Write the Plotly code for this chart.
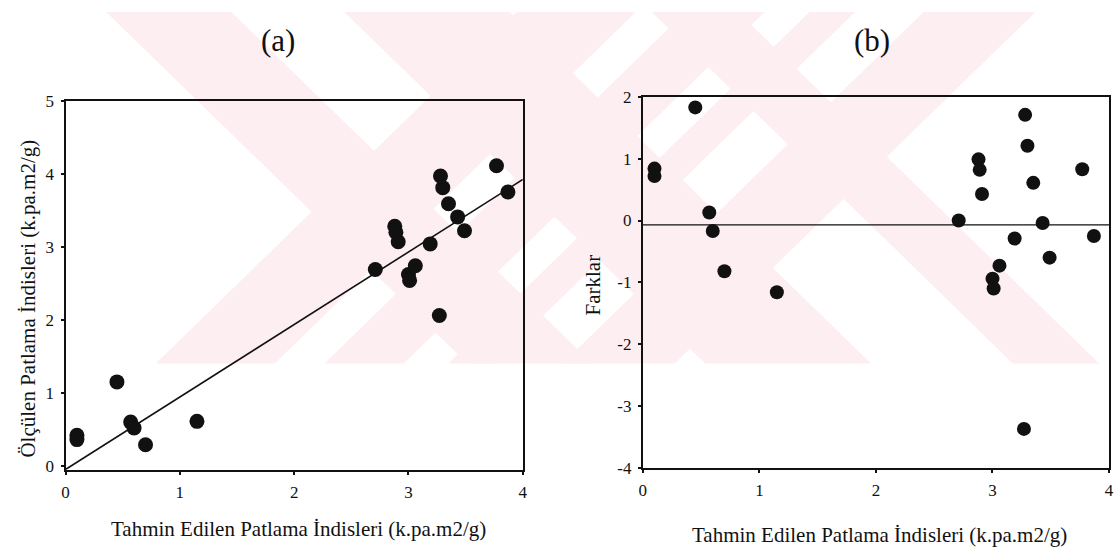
import numpy as np
import plotly.graph_objects as go

# Predicted blast indices (shared x values of both panels)
predicted = [0.10, 0.10, 0.45, 0.57, 0.60, 0.70, 1.15, 2.71, 2.88, 2.89, 2.91, 3.00,
             3.01, 3.06, 3.19, 3.27, 3.28, 3.30, 3.35, 3.43, 3.49, 3.77, 3.87]
# Measured blast indices, panel (a)
measured = [0.42, 0.36, 1.15, 0.60, 0.52, 0.29, 0.61, 2.69, 3.28, 3.20, 3.07, 2.62,
            2.54, 2.74, 3.04, 2.06, 3.97, 3.81, 3.59, 3.41, 3.22, 4.11, 3.75]
# Residuals, panel (b)
residuals = [0.84, 0.72, 1.83, 0.13, -0.17, -0.82, -1.16, 0.00, 0.99, 0.82, 0.43, -0.94,
             -1.10, -0.73, -0.29, -3.37, 1.71, 1.21, 0.61, -0.04, -0.60, 0.83, -0.25]

# Fitted line of panel (a) and reference line of panel (b)
fit_intercept = -0.05
fit_slope = 0.993
residual_ref = -0.07

x_ticks = [0, 1, 2, 3, 4]
ya_ticks = [0, 1, 2, 3, 4, 5]
yb_ticks = [2, 1, 0, -1, -2, -3, -4]
yb_labels = ["2", "1", "0", "-1", "-2", "-3", "-4"]

W, H = 1120, 558
FONT = "Liberation Serif, Times New Roman, serif"
INK = "#111111"

fig = go.Figure()

fit_x = np.array([0.0, 4.0])
fig.add_trace(go.Scatter(x=fit_x, y=fit_intercept + fit_slope * fit_x, mode="lines",
                         line=dict(color=INK, width=1.6), xaxis="x", yaxis="y",
                         showlegend=False, hoverinfo="skip"))
fig.add_trace(go.Scatter(x=predicted, y=measured, mode="markers",
                         marker=dict(size=15, color=INK), xaxis="x", yaxis="y",
                         showlegend=False))

fig.add_trace(go.Scatter(x=[0, 4], y=[residual_ref, residual_ref], mode="lines",
                         line=dict(color=INK, width=1.4), xaxis="x2", yaxis="y2",
                         showlegend=False, hoverinfo="skip"))
fig.add_trace(go.Scatter(x=predicted, y=residuals, mode="markers",
                         marker=dict(size=14, color=INK), xaxis="x2", yaxis="y2",
                         showlegend=False))


def px_x(v):
    return v / W


def px_y(v):
    return 1 - v / H


# Background emblem made of diagonal pink bands, clipped to a horizontal strip
Y_TOP, Y_BOT = 3, 367
back_bands = [(100, 226), (340, 507), (650, 737)]          # x - y in band
fwd_bands = [(520, 640), (690, 770), (815, 861), (930, 1043)]  # x + y in band
shapes = []
for a, b in back_bands:
    pts = [(a + Y_TOP, Y_TOP), (b + Y_TOP, Y_TOP), (b + Y_BOT, Y_BOT), (a + Y_BOT, Y_BOT)]
    path = "M " + " L ".join(f"{px_x(x):.4f},{px_y(y):.4f}" for x, y in pts) + " Z"
    shapes.append(dict(type="path", path=path, xref="paper", yref="paper",
                       fillcolor="#fdeef1", line=dict(width=0), layer="below"))
for a, b in fwd_bands:
    pts = [(a - Y_TOP, Y_TOP), (b - Y_TOP, Y_TOP), (b - Y_BOT, Y_BOT), (a - Y_BOT, Y_BOT)]
    path = "M " + " L ".join(f"{px_x(x):.4f},{px_y(y):.4f}" for x, y in pts) + " Z"
    shapes.append(dict(type="path", path=path, xref="paper", yref="paper",
                       fillcolor="#fdeef1", line=dict(width=0), layer="below"))

axis_common = dict(showgrid=False, zeroline=False, showline=True, linecolor=INK,
                   linewidth=2, mirror=True, ticks="outside", ticklen=3, tickwidth=2,
                   tickcolor=INK, tickfont=dict(family=FONT, size=17, color=INK))

fig.update_layout(
    width=W, height=H,
    margin=dict(l=0, r=0, t=0, b=0),
    paper_bgcolor="white", plot_bgcolor="rgba(0,0,0,0)",
    shapes=shapes,
    xaxis=dict(axis_common, domain=[62 / W, 523 / W], range=[0, 4], tickvals=x_ticks,
               anchor="y", ticklabelstandoff=3),
    yaxis=dict(axis_common, domain=[1 - 477 / H, 1 - 95 / H], range=[-0.053, 5],
               tickvals=ya_ticks, anchor="x", ticklabelstandoff=3),
    xaxis2=dict(axis_common, domain=[644 / W, 1114 / W], range=[0, 4], tickvals=x_ticks,
                anchor="y2", ticklabelstandoff=3),
    yaxis2=dict(axis_common, domain=[1 - 475 / H, 1 - 91 / H], range=[-4, 2],
                tickvals=yb_ticks, ticktext=yb_labels, anchor="x2", ticklabelstandoff=3),
)

title_font = dict(family=FONT, size=21, color=INK)
annotations = [
    dict(text="(a)", x=px_x(276), y=px_y(33), font=dict(family=FONT, size=31, color=INK)),
    dict(text="(b)", x=px_x(875), y=px_y(33), font=dict(family=FONT, size=31, color=INK)),
    dict(text="Tahmin Edilen Patlama İndisleri (k.pa.m2/g)", x=px_x(297), y=px_y(538),
         font=title_font),
    dict(text="Tahmin Edilen Patlama İndisleri (k.pa.m2/g)", x=px_x(883), y=px_y(545),
         font=title_font),
    dict(text="Ölçülen Patlama İndisleri (k.pa.m2/g)", x=px_x(24), y=px_y(300),
         textangle=-90, font=title_font),
    dict(text="Farklar", x=px_x(594), y=px_y(286), textangle=-90, font=title_font),
]
for ann in annotations:
    ann.update(xref="paper", yref="paper", showarrow=False, xanchor="center",
               yanchor="middle")
fig.update_layout(annotations=annotations)

fig.write_html("out.html")
